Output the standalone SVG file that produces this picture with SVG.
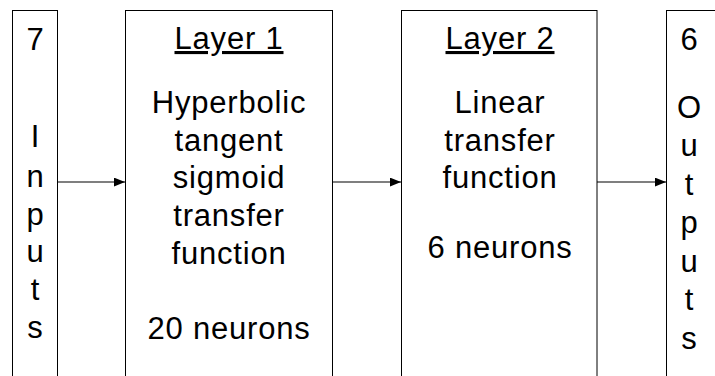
<svg xmlns="http://www.w3.org/2000/svg" width="715" height="376" viewBox="0 0 715 376">
<defs>
<style>
.box{fill:#fff;stroke:#000;stroke-width:1}
.t{font-family:"Liberation Sans",Arial,sans-serif;font-size:31px;fill:#000;text-anchor:middle;letter-spacing:0.8px}
.u{text-decoration:underline}
.edge{stroke:#000;stroke-width:1.2;fill:none;marker-end:url(#arr)}
</style>
<marker id="arr" viewBox="0 0 10 8" refX="10" refY="4" markerWidth="11" markerHeight="9" markerUnits="userSpaceOnUse" orient="auto">
<path d="M0,0 L10,4 L0,8 Z" fill="#000"/>
</marker>
</defs>
<rect width="715" height="376" fill="#fff"/>
<g id="inputs">
<rect class="box" x="12.5" y="10.5" width="45" height="380"/>
<text class="t" x="35.5" y="50">7</text>
<text class="t" x="35.5" y="147">I</text>
<text class="t" x="35.5" y="187">n</text>
<text class="t" x="35.5" y="225">p</text>
<text class="t" x="35.5" y="262">u</text>
<text class="t" x="35.5" y="300">t</text>
<text class="t" x="35.5" y="338">s</text>
</g>
<g id="layer1">
<rect class="box" x="125.5" y="10.5" width="207" height="380"/>
<text class="t u" x="229" y="49">Layer 1</text>
<text class="t" x="229" y="113">Hyperbolic</text>
<text class="t" x="229" y="151">tangent</text>
<text class="t" x="229" y="188">sigmoid</text>
<text class="t" x="229" y="226">transfer</text>
<text class="t" x="229" y="264">function</text>
<text class="t" x="229" y="339">20 neurons</text>
</g>
<g id="layer2">
<rect class="box" x="401.5" y="10.5" width="195.5" height="380"/>
<text class="t u" x="500" y="49">Layer 2</text>
<text class="t" x="500" y="113">Linear</text>
<text class="t" x="500" y="151">transfer</text>
<text class="t" x="500" y="188">function</text>
<text class="t" x="500" y="258">6 neurons</text>
</g>
<g id="outputs">
<rect class="box" x="666.5" y="10.5" width="60" height="380"/>
<text class="t" x="689.5" y="50">6</text>
<text class="t" x="689.5" y="118">O</text>
<text class="t" x="689.5" y="156">u</text>
<text class="t" x="689.5" y="195">t</text>
<text class="t" x="689.5" y="233">p</text>
<text class="t" x="689.5" y="272">u</text>
<text class="t" x="689.5" y="310">t</text>
<text class="t" x="689.5" y="349">s</text>
</g>
<g id="connectors">
<line class="edge" x1="57.5" y1="182" x2="125" y2="182"/>
<line class="edge" x1="332.5" y1="182" x2="401" y2="182"/>
<line class="edge" x1="597" y1="182" x2="666" y2="182"/>
</g>
</svg>
